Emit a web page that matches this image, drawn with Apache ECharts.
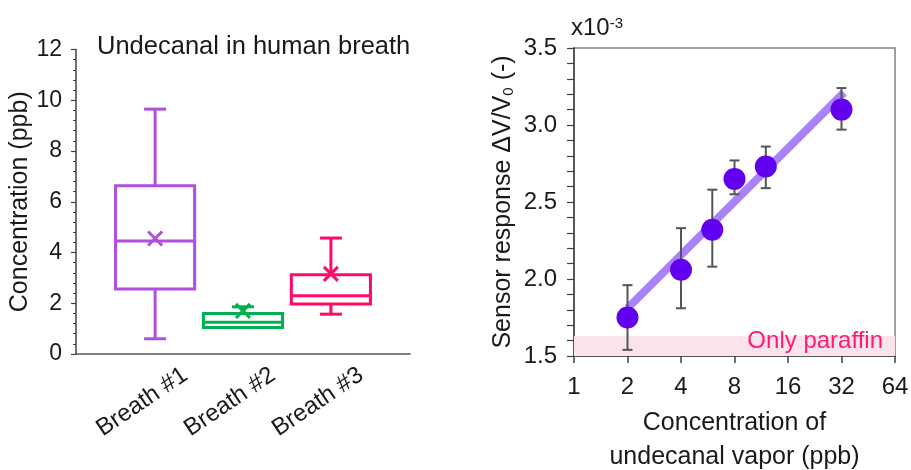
<!DOCTYPE html>
<html>
<head>
<meta charset="utf-8">
<script src="https://cdn.jsdelivr.net/npm/echarts@6/dist/echarts.min.js"></script>
<style>
html, body {margin: 0; padding: 0; background: #fff;}
#chart {width: 911px; height: 470px;}
</style>
</head>
<body>
<div id="chart"></div>
<script>
// left panel: undecanal in breath (box plots)
var breaths = ['Breath #1', 'Breath #2', 'Breath #3']
var breathPos = [0.9, 1.9, 2.9]
var boxMin = [0.6, 1.04, 1.57]
var boxQ1 = [2.56, 1.04, 1.97]
var boxMedian = [4.45, 1.25, 2.3]
var boxQ3 = [6.63, 1.6, 3.12]
var boxMax = [9.65, 1.86, 4.57]
var boxMean = [4.55, 1.7, 3.16]
var boxColors = ['#b04fdc', '#00b050', '#ff0a6c']

// right panel: sensor response (x10^-3) vs concentration
var concPpb = [2, 4, 6, 8, 12, 32]
var response = [1.75, 2.06, 2.32, 2.65, 2.73, 3.10]
var errLow = [1.54, 1.81, 2.08, 2.55, 2.59, 2.97]
var errHigh = [1.96, 2.33, 2.58, 2.77, 2.86, 3.24]
var fitX = [2, 33]
var fitY = [1.81, 3.21]
var paraffinBand = [1.5, 1.63]

var FONT = 'Liberation Sans, Arial, sans-serif'
var INK = '#1a1a1a'

var boxData = []
for (var i = 0; i < breaths.length; i++) {
    boxData.push([breathPos[i], boxMin[i], boxQ1[i], boxMedian[i], boxQ3[i], boxMax[i], boxMean[i]])
}
var pointData = []
var errData = []
for (var i = 0; i < concPpb.length; i++) {
    pointData.push([concPpb[i], response[i]])
    errData.push([concPpb[i], errLow[i], errHigh[i]])
}
var fitData = []
for (var i = 0; i < fitX.length; i++) {
    fitData.push([fitX[i], fitY[i]])
}

function line(x1, y1, x2, y2, color, w) {
    return {
        type: 'line',
        shape: {x1: x1, y1: y1, x2: x2, y2: y2},
        style: {stroke: color, lineWidth: w}
    }
}

function renderBox(params, api) {
    var i = params.dataIndex
    var color = boxColors[i]
    var x = api.value(0)
    var half = api.size([0.9, 0])[0] / 2
    var cx = api.coord([x, 0])[0]
    var y0 = api.coord([x, 0])[1]
    var yMin = api.coord([x, api.value(1)])[1]
    var yQ1 = api.coord([x, api.value(2)])[1]
    var yMed = api.coord([x, api.value(3)])[1]
    var yQ3 = api.coord([x, api.value(4)])[1]
    var yMax = api.coord([x, api.value(5)])[1]
    var yMean = api.coord([x, api.value(6)])[1]
    var cap = 11
    var m = 7
    return {
        type: 'group',
        children: [
            line(cx, yMax, cx, yQ3, color, 3),
            line(cx, yQ1, cx, yMin, color, 3),
            line(cx - cap, yMax, cx + cap, yMax, color, 3),
            line(cx - cap, yMin, cx + cap, yMin, color, 3),
            {
                type: 'rect',
                shape: {x: cx - half, y: yQ3, width: half * 2, height: yQ1 - yQ3},
                style: {fill: '#fff', stroke: color, lineWidth: 3}
            },
            line(cx - half, yMed, cx + half, yMed, color, 3),
            line(cx - m, yMean - m, cx + m, yMean + m, color, 3),
            line(cx - m, yMean + m, cx + m, yMean - m, color, 3),
            {
                type: 'text',
                x: cx - 13,
                y: y0 + 48,
                rotation: 34 * Math.PI / 180,
                style: {
                    text: breaths[i],
                    x: 0, y: 0,
                    align: 'center', verticalAlign: 'middle',
                    textAlign: 'center', textVerticalAlign: 'middle',
                    fontSize: 24, fontFamily: FONT, fill: INK
                }
            }
        ]
    }
}

function renderErr(params, api) {
    var lo = api.coord([api.value(0), api.value(1)])
    var hi = api.coord([api.value(0), api.value(2)])
    var c = '#555555'
    return {
        type: 'group',
        children: [
            line(lo[0], lo[1], hi[0], hi[1], c, 2),
            line(lo[0] - 5, lo[1], lo[0] + 5, lo[1], c, 2),
            line(hi[0] - 5, hi[1], hi[0] + 5, hi[1], c, 2)
        ]
    }
}

var myChart = echarts.init(document.getElementById('chart'))
var option = {
    animation: false,
    backgroundColor: '#fff',
    textStyle: {fontFamily: FONT, color: INK},
    title: {
        text: 'Undecanal in human breath',
        left: 97,
        top: 34,
        padding: 0,
        textStyle: {fontSize: 25.5, fontWeight: 'normal', color: INK, fontFamily: FONT}
    },
    graphic: [
        {
            type: 'text',
            left: 571,
            top: 16,
            style: {
                text: 'x10{sup|-3}',
                fontSize: 24, fontFamily: FONT, fill: INK,
                rich: {sup: {fontSize: 15, verticalAlign: 'top', fontFamily: FONT, fill: INK}}
            }
        }
    ],
    grid: [
        {left: 76, right: 501, top: 49.5, bottom: 116, outerBoundsMode: 'none'},
        {left: 574, right: 16, top: 48, bottom: 114, show: true, outerBoundsMode: 'none',
         borderColor: '#808080', borderWidth: 1.5, backgroundColor: 'transparent'}
    ],
    xAxis: [
        {
            gridIndex: 0, type: 'value', min: 0, max: 3.8,
            axisLine: {lineStyle: {color: '#555', width: 1.5}},
            axisTick: {show: false},
            axisLabel: {show: false},
            splitLine: {show: false}
        },
        {
            gridIndex: 1, type: 'log', logBase: 2, min: 1, max: 64,
            name: 'Concentration of\nundecanal vapor (ppb)',
            nameLocation: 'middle',
            nameGap: 50,
            nameTextStyle: {fontSize: 25, lineHeight: 34, color: INK, fontFamily: FONT},
            axisLine: {lineStyle: {color: '#404040', width: 1.5}},
            axisTick: {length: 7, lineStyle: {color: '#404040', width: 1.5}},
            axisLabel: {fontSize: 24, color: INK, margin: 19, formatter: function (v) { return Math.round(v) }},
            splitLine: {show: false},
            minorTick: {show: false}
        }
    ],
    yAxis: [
        {
            gridIndex: 0, type: 'value', min: 0, max: 12, interval: 2,
            name: 'Concentration (ppb)',
            nameLocation: 'middle',
            nameGap: 38,
            nameTextStyle: {fontSize: 25, color: INK, fontFamily: FONT},
            axisLine: {show: true, lineStyle: {color: '#404040', width: 1.5}},
            axisTick: {show: true, length: 5, lineStyle: {color: '#404040', width: 1.2}},
            minorTick: {show: true, splitNumber: 5, length: 3, lineStyle: {color: '#404040', width: 1}},
            axisLabel: {fontSize: 23, color: INK, margin: 14},
            splitLine: {show: false}
        },
        {
            gridIndex: 1, type: 'value', min: 1.5, max: 3.5, interval: 0.5,
            name: 'Sensor response \u0394V/V{sub|0} (-)',
            nameLocation: 'middle',
            nameGap: 58,
            nameTextStyle: {
                fontSize: 25, color: INK, fontFamily: FONT,
                rich: {sub: {fontSize: 15, verticalAlign: 'bottom', color: INK, fontFamily: FONT}}
            },
            axisLine: {show: true, lineStyle: {color: '#404040', width: 1.5}},
            axisTick: {show: true, length: 7, lineStyle: {color: '#404040', width: 1.2}},
            minorTick: {show: true, splitNumber: 5, length: 7, lineStyle: {color: '#404040', width: 1.2}},
            axisLabel: {fontSize: 24, color: INK, margin: 17, formatter: function (v) { return v.toFixed(1) }},
            splitLine: {show: false}
        }
    ],
    series: [
        {
            type: 'custom',
            xAxisIndex: 0, yAxisIndex: 0,
            renderItem: renderBox,
            data: boxData,
            silent: true
        },
        {
            type: 'line',
            xAxisIndex: 1, yAxisIndex: 1,
            data: fitData,
            showSymbol: false,
            lineStyle: {color: '#a47cf6', width: 8, opacity: 0.95},
            z: 2,
            silent: true,
            markArea: {
                silent: true,
                itemStyle: {color: '#fbe3ec'},
                label: {
                    show: true, position: 'insideRight', distance: 12, offset: [0, -5],
                    color: '#ff1a75', fontSize: 24, fontFamily: FONT
                },
                data: [[
                    {name: 'Only paraffin', xAxis: 1, yAxis: paraffinBand[0]},
                    {xAxis: 64, yAxis: paraffinBand[1]}
                ]]
            }
        },
        {
            type: 'custom',
            xAxisIndex: 1, yAxisIndex: 1,
            renderItem: renderErr,
            data: errData,
            z: 3,
            silent: true
        },
        {
            type: 'scatter',
            xAxisIndex: 1, yAxisIndex: 1,
            data: pointData,
            symbolSize: 22,
            itemStyle: {color: '#6200f0', opacity: 1},
            z: 4,
            silent: true
        }
    ]
}
myChart.setOption(option)
</script>
</body>
</html>
